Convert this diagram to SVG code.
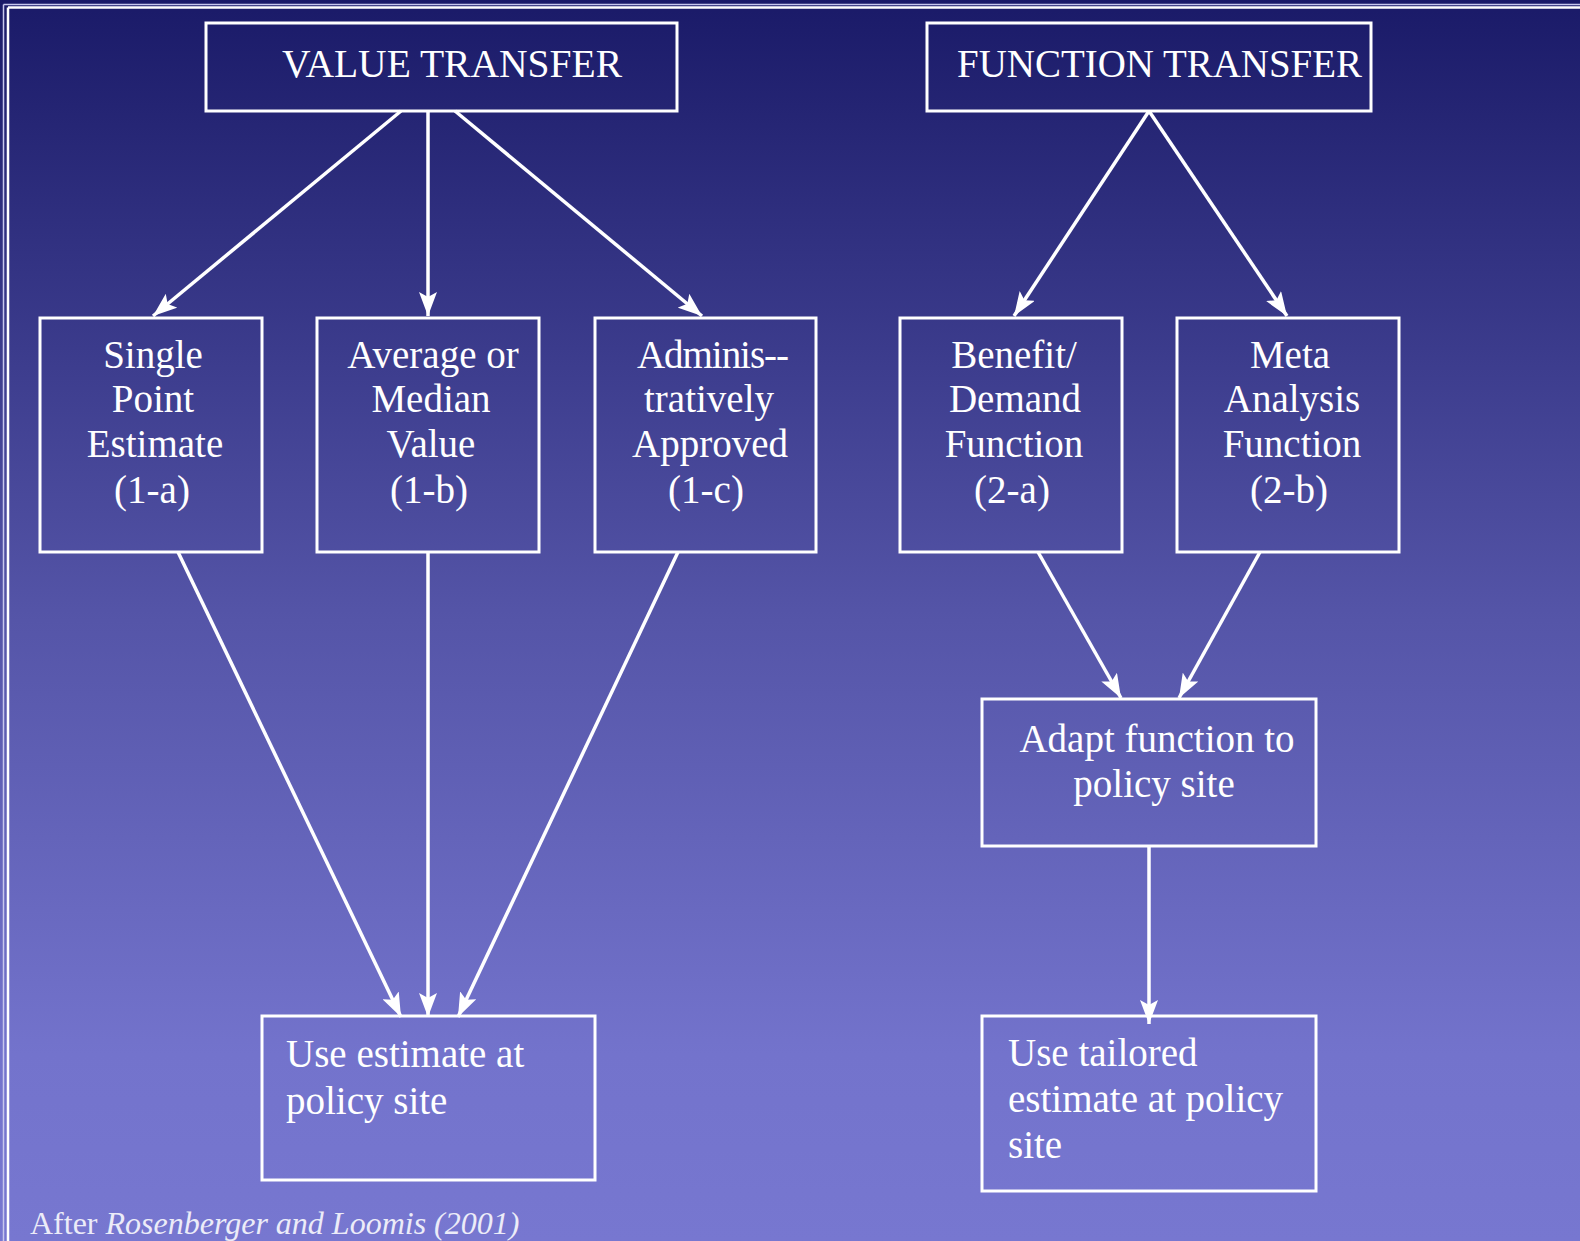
<svg xmlns="http://www.w3.org/2000/svg" width="1580" height="1241" viewBox="0 0 1580 1241">
  <defs>
    <linearGradient id="bg" x1="0" y1="0" x2="0" y2="1">
      <stop offset="0" stop-color="#1a1a68"/>
      <stop offset="0.5" stop-color="#5555a8"/>
      <stop offset="0.85" stop-color="#7373cc"/>
      <stop offset="1" stop-color="#7777d0"/>
    </linearGradient>
    <marker id="arrow" viewBox="0 0 24 18" refX="24" refY="9" markerWidth="24" markerHeight="18" markerUnits="userSpaceOnUse" orient="auto">
      <path d="M0,0 L24,9 L0,18 L5,9 Z" fill="#ffffff"/>
    </marker>
    <style>
      .box { fill: none; stroke: #ffffff; stroke-width: 3; }
      .lbl { font-family: "Liberation Serif", "Times New Roman", serif; font-size: 39px; fill: #ffffff; }
      .ttl { font-family: "Liberation Serif", "Times New Roman", serif; font-size: 40px; fill: #ffffff; }
      .mid { text-anchor: middle; }
      .edge { fill: none; stroke: #ffffff; stroke-width: 3.5; marker-end: url(#arrow); }
      .note { font-family: "Liberation Serif", "Times New Roman", serif; font-size: 32px; fill: #ececf8; }
    </style>
  </defs>

  <!-- background and slide frame -->
  <rect x="0" y="0" width="1580" height="1241" fill="url(#bg)"/>
  <line x1="3.5" y1="4.5" x2="3.5" y2="1241" stroke="#c8c8ee" stroke-width="1.5"/>
  <line x1="3.5" y1="4.5" x2="1580" y2="4.5" stroke="#c8c8ee" stroke-width="1.5"/>
  <line x1="8" y1="7.5" x2="8" y2="1241" stroke="#ffffff" stroke-width="2.5"/>
  <line x1="8" y1="7.5" x2="1580" y2="7.5" stroke="#ffffff" stroke-width="2.5"/>

  <!-- connectors -->
  <g id="connectors">
    <line class="edge" x1="401" y1="111" x2="153" y2="316"/>
    <line class="edge" x1="428" y1="111" x2="428" y2="316"/>
    <line class="edge" x1="455" y1="111" x2="702" y2="316"/>
    <line class="edge" x1="1149" y1="111" x2="1014" y2="316"/>
    <line class="edge" x1="1149" y1="111" x2="1287" y2="316"/>
    <line class="edge" x1="178" y1="552" x2="401" y2="1017"/>
    <line class="edge" x1="428" y1="552" x2="428" y2="1017"/>
    <line class="edge" x1="678" y1="552" x2="458" y2="1017"/>
    <line class="edge" x1="1038" y1="552" x2="1121" y2="698"/>
    <line class="edge" x1="1260" y1="552" x2="1179" y2="698"/>
    <line class="edge" x1="1149" y1="846" x2="1149" y2="1024"/>
  </g>

  <g id="value-transfer">
    <rect class="box" x="206" y="23" width="471" height="88"/>
    <text class="ttl" x="282" y="77" textLength="340" lengthAdjust="spacingAndGlyphs">VALUE TRANSFER</text>
  </g>

  <g id="function-transfer">
    <rect class="box" x="927" y="23" width="444" height="88"/>
    <text class="ttl" x="957" y="77" textLength="405" lengthAdjust="spacingAndGlyphs">FUNCTION TRANSFER</text>
  </g>

  <g id="single-point">
    <rect class="box" x="40" y="318" width="222" height="234"/>
    <text class="lbl mid" x="153" y="368">Single</text>
    <text class="lbl mid" x="153" y="412">Point</text>
    <text class="lbl mid" x="155" y="457">Estimate</text>
    <text class="lbl mid" x="152" y="503">(1-a)</text>
  </g>

  <g id="average-median">
    <rect class="box" x="317" y="318" width="222" height="234"/>
    <text class="lbl mid" x="433" y="368">Average or</text>
    <text class="lbl mid" x="431" y="412">Median</text>
    <text class="lbl mid" x="431" y="457">Value</text>
    <text class="lbl mid" x="429" y="503">(1-b)</text>
  </g>

  <g id="admin-approved">
    <rect class="box" x="595" y="318" width="221" height="234"/>
    <text class="lbl" x="637" y="368" textLength="152" lengthAdjust="spacing">Adminis--</text>
    <text class="lbl mid" x="709" y="412">tratively</text>
    <text class="lbl mid" x="710" y="457">Approved</text>
    <text class="lbl mid" x="706" y="503">(1-c)</text>
  </g>

  <g id="benefit-demand">
    <rect class="box" x="900" y="318" width="222" height="234"/>
    <text class="lbl mid" x="1014" y="368">Benefit/</text>
    <text class="lbl mid" x="1015" y="412">Demand</text>
    <text class="lbl mid" x="1014" y="457">Function</text>
    <text class="lbl mid" x="1012" y="503">(2-a)</text>
  </g>

  <g id="meta-analysis">
    <rect class="box" x="1177" y="318" width="222" height="234"/>
    <text class="lbl mid" x="1290" y="368">Meta</text>
    <text class="lbl mid" x="1292" y="412">Analysis</text>
    <text class="lbl mid" x="1292" y="457">Function</text>
    <text class="lbl mid" x="1289" y="503">(2-b)</text>
  </g>

  <g id="adapt-function">
    <rect class="box" x="982" y="699" width="334" height="147"/>
    <text class="lbl mid" x="1157" y="752">Adapt function to</text>
    <text class="lbl mid" x="1154" y="797">policy site</text>
  </g>

  <g id="use-estimate">
    <rect class="box" x="262" y="1016" width="333" height="164"/>
    <text class="lbl" x="286" y="1067">Use estimate at</text>
    <text class="lbl" x="286" y="1114">policy site</text>
  </g>

  <g id="use-tailored">
    <rect class="box" x="982" y="1016" width="334" height="175"/>
    <text class="lbl" x="1008" y="1066">Use tailored</text>
    <text class="lbl" x="1008" y="1112">estimate at policy</text>
    <text class="lbl" x="1008" y="1158">site</text>
  </g>

  <text class="note" x="30" y="1234">After <tspan font-style="italic">Rosenberger and Loomis (2001)</tspan></text>
</svg>
